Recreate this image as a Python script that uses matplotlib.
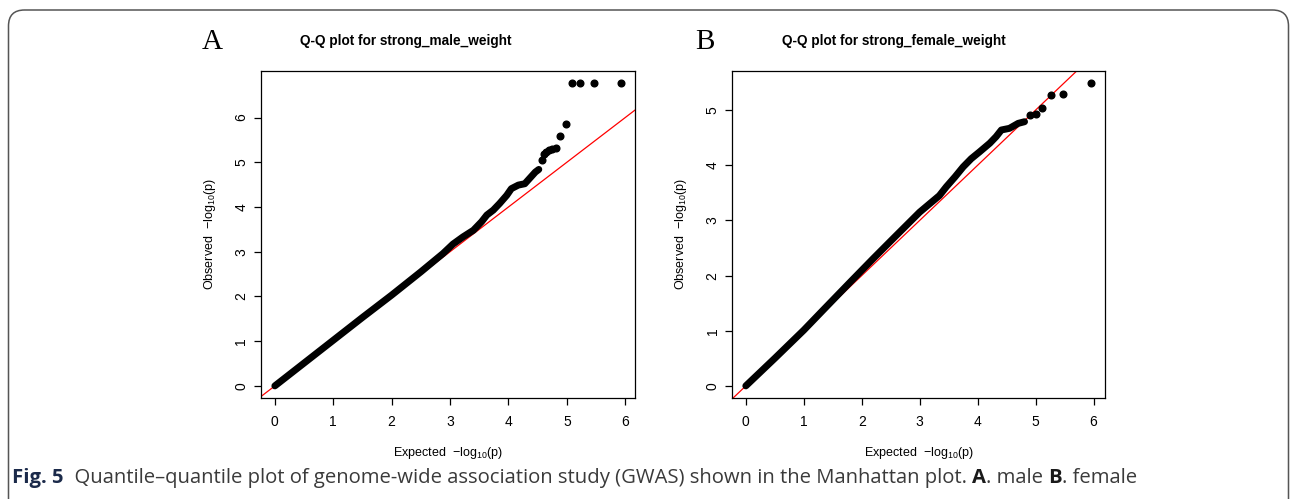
import numpy as np
import matplotlib
matplotlib.use("Agg")
import matplotlib.pyplot as plt
from matplotlib.patches import FancyBboxPatch

plt.rcParams['font.family'] = ['Liberation Sans', 'DejaVu Sans']
plt.rcParams['mathtext.fontset'] = 'custom'
plt.rcParams['mathtext.rm'] = 'Liberation Sans'
plt.rcParams['mathtext.it'] = 'Liberation Sans'

# expected vs observed -log10(p), dense part of the curve (male)
male_exp = [0.0, 0.5, 1.0, 1.5, 2.0, 2.5, 2.88, 3.05, 3.22, 3.40, 3.54, 3.63, 3.74,
            3.85, 3.97, 4.05, 4.17, 4.28, 4.37, 4.46, 4.52]
male_obs = [0.0, 0.51, 1.02, 1.53, 2.03, 2.55, 2.96, 3.17, 3.33, 3.48, 3.67, 3.82, 3.93,
            4.08, 4.26, 4.41, 4.49, 4.52, 4.65, 4.78, 4.84]
# top hits (male)
male_top_exp = [4.57, 4.61, 4.65, 4.70, 4.75, 4.82, 4.89, 4.98, 5.09, 5.23, 5.46, 5.93]
male_top_obs = [5.06, 5.19, 5.23, 5.27, 5.30, 5.33, 5.59, 5.86, 6.77, 6.77, 6.77, 6.77]

# female
female_exp = [0.0, 0.5, 1.0, 1.33, 1.8, 2.2, 2.57, 3.0, 3.34, 3.46, 3.61, 3.75, 3.89,
              4.03, 4.21, 4.32, 4.41, 4.55, 4.70, 4.81]
female_obs = [0.0, 0.5, 1.01, 1.37, 1.88, 2.31, 2.70, 3.15, 3.45, 3.61, 3.79, 3.97, 4.12,
              4.24, 4.40, 4.52, 4.64, 4.67, 4.76, 4.79]
female_top_exp = [4.91, 5.01, 5.11, 5.26, 5.48, 5.96]
female_top_obs = [4.92, 4.93, 5.04, 5.28, 5.29, 5.49]

W, H = 1292, 499
fig = plt.figure(figsize=(W / 100, H / 100), dpi=100)

# rounded frame around the figure
frame = FancyBboxPatch((0.085, -0.3), 12.80, 5.19,
                       boxstyle="round,pad=0,rounding_size=0.16",
                       transform=fig.dpi_scale_trans, fill=False,
                       edgecolor='#555555', linewidth=1.1)
fig.patches.append(frame)


def qq_panel(rect, exp, obs, top_exp, top_obs, title, letter, letter_x, title_x):
    ax = fig.add_axes(rect)
    ax.plot([-1, 10], [-1, 10], color='red', lw=0.9, zorder=1)
    ax.plot(exp, obs, color='black', lw=5.0, solid_capstyle='round',
            solid_joinstyle='round', zorder=2)
    ax.plot(top_exp, top_obs, 'o', color='black', markersize=4.8, zorder=3)

    xmax = max(top_exp)
    ymax = max(top_obs)
    ax.set_xlim(-0.04 * xmax, xmax * 1.04)
    ax.set_ylim(-0.04 * ymax, ymax * 1.04)
    ax.set_xticks(range(0, 7))
    ax.set_yticks(range(0, int(ymax) + 1))
    ax.tick_params(length=5, width=0.9, labelsize=10, direction='out')
    ax.tick_params(axis='x', pad=7)
    ax.tick_params(axis='y', pad=4)
    for lbl in ax.get_yticklabels():
        lbl.set_rotation(90)
        lbl.set_va('center')
    for s in ax.spines.values():
        s.set_linewidth(0.9)
    ax.set_xlabel(r'Expected  $-\mathrm{log}_{10}(\mathrm{p})$', fontsize=9, labelpad=12)
    ax.set_ylabel(r'Observed  $-\mathrm{log}_{10}(\mathrm{p})$', fontsize=9, labelpad=12)
    fig.text(title_x / W, 1 - 41 / H, title, ha='center', va='center',
             fontsize=9.8, fontweight='bold')
    fig.text(letter_x / W, 1 - 42 / H, letter, ha='center', va='center',
             fontsize=21, family='Liberation Serif')
    return ax


qq_panel([261 / W, 101 / H, 374 / W, 327 / H], male_exp, male_obs,
         male_top_exp, male_top_obs, 'Q-Q plot for strong_male_weight', 'A', 212, 406)
qq_panel([732 / W, 101 / H, 373 / W, 327 / H], female_exp, female_obs,
         female_top_exp, female_top_obs, 'Q-Q plot for strong_female_weight', 'B', 705, 894)

# caption, drawn piece by piece so bold parts sit inline
cap_font = ['Open Sans', 'DejaVu Sans']
pieces = [("Fig. 5", 'bold', '#1b2a4a'),
          ("  Quantile\u2013quantile plot of genome-wide association study (GWAS) shown in the Manhattan plot. ", 'normal', '#3a3a3a'),
          ("A", 'bold', '#1a1a1a'),
          (". male ", 'normal', '#3a3a3a'),
          ("B", 'bold', '#1a1a1a'),
          (". female", 'normal', '#3a3a3a')]
fig.canvas.draw()
renderer = fig.canvas.get_renderer()
x = 12
for txt, weight, col in pieces:
    t = fig.text(x / W, 1 - 478 / H, txt, fontsize=14.6, fontweight=weight,
                 color=col, family=cap_font, va='center', ha='left')
    x += t.get_window_extent(renderer).width

fig.savefig('out.png', dpi=100)
